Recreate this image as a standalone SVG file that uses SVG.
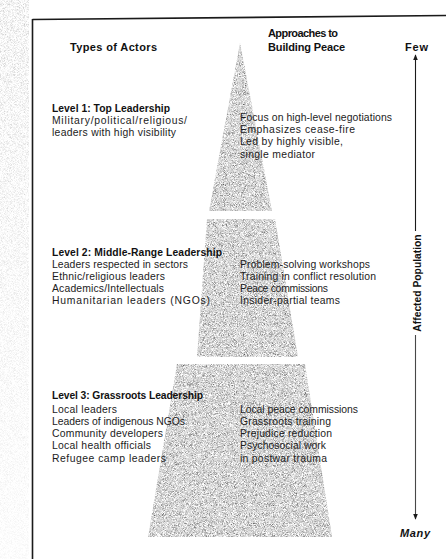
<svg xmlns="http://www.w3.org/2000/svg" width="446" height="559" viewBox="0 0 446 559">
  <style>
    .body { font-family: "Liberation Sans", Arial, sans-serif; font-size: 10.4px; fill: #1c1c1c; }
    .head { font-family: "Liberation Sans", Arial, sans-serif; font-size: 10.3px; font-weight: bold; fill: #111; }
    .title { font-family: "Liberation Sans", Arial, sans-serif; font-size: 11px; font-weight: bold; fill: #111; }
    .tier { stroke: none; fill: #a9a9a9; filter: url(#grain); }
    .frame { stroke: #1a1a1a; stroke-width: 1.6; fill: none; }
    .axis { stroke: #1a1a1a; stroke-width: 1.1; fill: none; }
  </style>
  <defs>
    <!-- halftone-like grain for the pyramid tiers -->
    <filter id="grain" x="0" y="0" width="100%" height="100%">
      <feTurbulence type="fractalNoise" baseFrequency="1.9" numOctaves="1" seed="7" result="noise"/>
      <feColorMatrix in="noise" type="matrix" values="1.7 0 0 0 -0.18  1.7 0 0 0 -0.18  1.7 0 0 0 -0.18  0 0 0 0 1" result="tone"/>
      <feComposite in="tone" in2="SourceGraphic" operator="in"/>
    </filter>
    <!-- light speckle along the page margin -->
    <filter id="paper" x="0" y="0" width="100%" height="100%">
      <feTurbulence type="fractalNoise" baseFrequency="1.7" numOctaves="1" seed="3" result="noise"/>
      <feColorMatrix in="noise" type="matrix" values="1.2 0 0 0 0.3  1.2 0 0 0 0.3  1.2 0 0 0 0.3  0 0 0 0 1" result="tone"/>
      <feComposite in="tone" in2="SourceGraphic" operator="in"/>
    </filter>
    <linearGradient id="fade" x1="0" y1="0" x2="0" y2="1">
      <stop offset="0" stop-color="#fff" stop-opacity="0.9"/>
      <stop offset="0.3" stop-color="#fff" stop-opacity="0.6"/>
      <stop offset="1" stop-color="#fff" stop-opacity="0.2"/>
    </linearGradient>
    <mask id="marginMask">
      <rect x="0" y="0" width="32" height="559" fill="url(#fade)"/>
    </mask>
    <marker id="head" viewBox="0 0 8 8" refX="7" refY="4" markerWidth="6" markerHeight="6" orient="auto" markerUnits="userSpaceOnUse">
      <path d="M0,0.8 L8,4 L0,7.2 Z" fill="#1a1a1a"/>
    </marker>
  </defs>

  <rect width="446" height="559" fill="#fff"/>

  <!-- page margin speckle -->
  <g mask="url(#marginMask)">
    <rect x="0" y="0" width="29" height="559" fill="#ddd" filter="url(#paper)"/>
  </g>

  <!-- outer frame -->
  <g id="frame">
    <path class="frame" d="M32.5,19.5 L446,15.5"/>
    <path class="frame" d="M32.5,19 L32.5,559"/>
  </g>

  <!-- column titles -->
  <g id="titles">
    <text class="title" x="70" y="51" textLength="87">Types of Actors</text>
    <text class="title" x="268" y="37" textLength="70">Approaches to</text>
    <text class="title" x="268" y="51" textLength="77">Building Peace</text>
    <text class="title" x="405" y="51" textLength="23">Few</text>
  </g>

  <!-- pyramid tiers -->
  <g id="tier-top">
    <polygon class="tier" points="240,43 272,211 209,211"/>
  </g>
  <g id="tier-middle">
    <polygon class="tier" points="207,219 275,219 298,357 197,357"/>
  </g>
  <g id="tier-grassroots">
    <polygon class="tier" points="177,364 305,364 332,537 148,537"/>
  </g>

  <!-- level 1 -->
  <g id="level1-actors">
    <text class="head" x="52" y="112" textLength="118">Level 1: Top Leadership</text>
    <text class="body" x="52" y="124" textLength="135">Military/political/religious/</text>
    <text class="body" x="52" y="136" textLength="124">leaders with high visibility</text>
  </g>
  <g id="level1-approaches">
    <text class="body" x="240" y="120.5" textLength="152">Focus on high-level negotiations</text>
    <text class="body" x="240" y="132.5" textLength="115">Emphasizes cease-fire</text>
    <text class="body" x="240" y="145" textLength="103">Led by highly visible,</text>
    <text class="body" x="240" y="157.5" textLength="75">single mediator</text>
  </g>

  <!-- level 2 -->
  <g id="level2-actors">
    <text class="head" x="52" y="255.5" textLength="170">Level 2: Middle-Range Leadership</text>
    <text class="body" x="52" y="267.5" textLength="136">Leaders respected in sectors</text>
    <text class="body" x="52" y="279.5" textLength="113">Ethnic/religious leaders</text>
    <text class="body" x="52" y="291.5" textLength="112">Academics/Intellectuals</text>
    <text class="body" x="52" y="303.5" textLength="158">Humanitarian leaders (NGOs)</text>
  </g>
  <g id="level2-approaches">
    <text class="body" x="240" y="267.5" textLength="130">Problem-solving workshops</text>
    <text class="body" x="240" y="279.5" textLength="136">Training in conflict resolution</text>
    <text class="body" x="240" y="291.5" textLength="88">Peace commissions</text>
    <text class="body" x="240" y="303.5" textLength="100">Insider-partial teams</text>
  </g>

  <!-- level 3 -->
  <g id="level3-actors">
    <text class="head" x="52" y="398.5" textLength="151">Level 3: Grassroots Leadership</text>
    <text class="body" x="52" y="412.5" textLength="65">Local leaders</text>
    <text class="body" x="52" y="424.5" textLength="133">Leaders of indigenous NGOs</text>
    <text class="body" x="52" y="437" textLength="111">Community developers</text>
    <text class="body" x="52" y="449" textLength="99">Local health officials</text>
    <text class="body" x="52" y="462" textLength="114">Refugee camp leaders</text>
  </g>
  <g id="level3-approaches">
    <text class="body" x="240" y="412.5" textLength="118">Local peace commissions</text>
    <text class="body" x="240" y="424.5" textLength="91">Grassroots training</text>
    <text class="body" x="240" y="437" textLength="92">Prejudice reduction</text>
    <text class="body" x="240" y="449" textLength="86">Psychosocial work</text>
    <text class="body" x="240" y="462" textLength="87">in postwar trauma</text>
  </g>

  <!-- affected population axis -->
  <g id="connectors">
    <path class="axis" d="M415.5,231 L415.5,55" marker-end="url(#head)"/>
    <path class="axis" d="M415.5,335 L415.5,519" stroke-opacity="0.8" marker-end="url(#head)"/>
  </g>
  <g id="axis-label">
    <text class="head" font-size="10.6" transform="translate(420.5,283) rotate(-90)" text-anchor="middle">Affected Population</text>
  </g>
  <g id="many-label">
    <text class="title" x="400" y="537" font-style="italic" textLength="30">Many</text>
  </g>
</svg>
